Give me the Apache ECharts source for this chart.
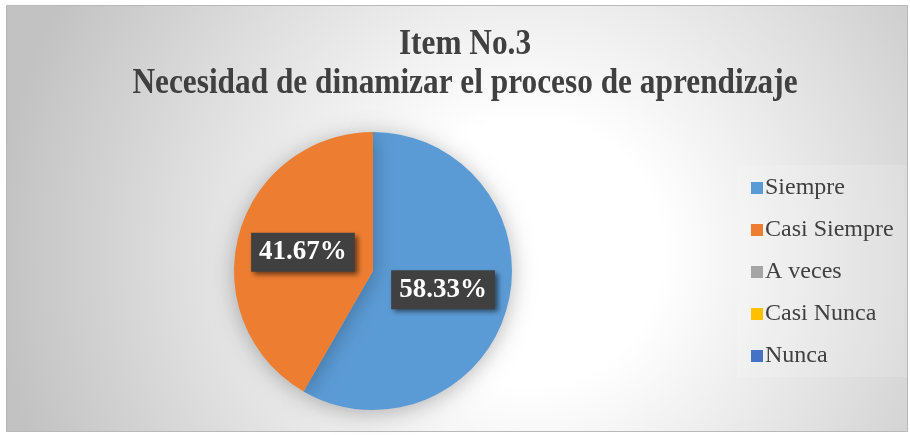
<!DOCTYPE html>
<html>
<head>
<meta charset="utf-8">
<script src="https://cdn.jsdelivr.net/npm/echarts@6/dist/echarts.min.js"></script>
<style>
  html, body { margin: 0; padding: 0; background: #fff; }
  #chart { width: 910px; height: 435px; }
</style>
</head>
<body>
<div id="chart"></div>
<script>
// Item No.3 - share of answers
var titleLines = ['Item No.3', 'Necesidad de dinamizar el proceso de aprendizaje'];
var categories = ['Siempre', 'Casi Siempre', 'A veces', 'Casi Nunca', 'Nunca'];
var values = [58.33, 41.67, 0, 0, 0];
var colors = ['#5B9BD5', '#ED7D31', '#A5A5A5', '#FFC000', '#4472C4'];

var serif = '"Liberation Serif", "Times New Roman", serif';

var pieData = categories.map(function (name, i) {
    var item = { name: name, value: values[i] };
    if (!values[i]) {
        item.label = { show: false };
    }
    return item;
});

// title is drawn a bit narrow, like the original condensed heading
function titleText(text, y) {
    return {
        type: 'text',
        silent: true,
        x: 465,
        y: y,
        scaleX: 0.87,
        style: {
            text: text,
            font: 'bold 36px ' + serif,
            fill: '#404040',
            align: 'center',
            verticalAlign: 'middle'
        }
    };
}

var chart = echarts.init(document.getElementById('chart'));
chart.setOption({
    animation: false,
    color: colors,
    graphic: [{
        type: 'rect',
        silent: true,
        z: -10,
        shape: { x: 6.5, y: 5.5, width: 901, height: 426 },
        style: {
            fill: {
                type: 'radial', x: 0.58, y: 0.58, r: 1.25,
                colorStops: [
                    { offset: 0, color: '#ffffff' },
                    { offset: 0.25, color: '#ffffff' },
                    { offset: 1, color: '#c2c2c2' }
                ]
            },
            stroke: '#b9b9b9',
            lineWidth: 1
        }
    }, {
        // faint legend panel
        type: 'rect',
        silent: true,
        z: -9,
        shape: { x: 737, y: 165, width: 170, height: 212 },
        style: { fill: 'rgba(255,255,255,0.15)' }
    },
        titleText(titleLines[0], 45),
        titleText(titleLines[1], 84)
    ],
    legend: {
        orient: 'vertical',
        left: 746,
        top: 171,
        itemGap: 18,
        itemWidth: 12,
        itemHeight: 12,
        icon: 'rect',
        data: categories,
        textStyle: {
            fontFamily: serif,
            fontSize: 24,
            color: '#404040',
            padding: [0, 0, 0, -3]
        }
    },
    series: [{
        type: 'pie',
        center: [373, 271],
        radius: 139,
        startAngle: 90,
        clockwise: true,
        avoidLabelOverlap: false,
        stillShowZeroSum: false,
        itemStyle: {
            shadowBlur: 22,
            shadowColor: 'rgba(0,0,0,0.28)',
            shadowOffsetY: 3
        },
        label: {
            show: true,
            position: 'inside',
            formatter: function (p) { return p.value.toFixed(2) + '%'; },
            fontFamily: serif,
            fontSize: 27,
            fontWeight: 'bold',
            color: '#ffffff',
            backgroundColor: '#404040',
            padding: [7, 8, 5, 8],
            shadowColor: 'rgba(0,0,0,0.55)',
            shadowBlur: 5,
            shadowOffsetX: 3,
            shadowOffsetY: 3
        },
        labelLine: { show: false },
        emphasis: { disabled: true },
        data: pieData
    }]
});
</script>
</body>
</html>
